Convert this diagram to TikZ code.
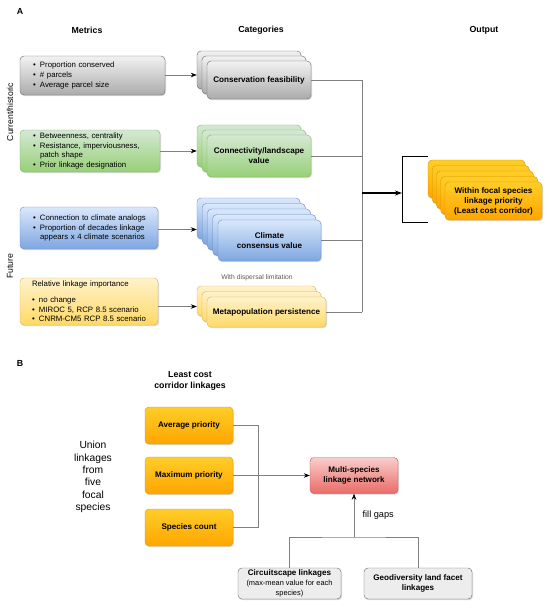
\documentclass[tikz,border=0pt]{standalone}
\usepackage{fontspec}
\setmainfont{Liberation Sans}
\usepackage{xcolor}
\usetikzlibrary{arrows.meta,shadows}

\definecolor{greyTop}{HTML}{F2F2F2}
\definecolor{greyBot}{HTML}{ABABAB}
\definecolor{greyLine}{HTML}{666666}
\definecolor{greenTop}{HTML}{D5E8D4}
\definecolor{greenBot}{HTML}{97D077}
\definecolor{greenLine}{HTML}{82B366}
\definecolor{blueTop}{HTML}{DAE8FC}
\definecolor{blueBot}{HTML}{7EA6E0}
\definecolor{blueLine}{HTML}{6C8EBF}
\definecolor{yellowTop}{HTML}{FFF2CC}
\definecolor{yellowBot}{HTML}{FFD966}
\definecolor{yellowLine}{HTML}{D6B656}
\definecolor{orangeTop}{HTML}{FFCD28}
\definecolor{orangeBot}{HTML}{FFA500}
\definecolor{orangeLine}{HTML}{D79B00}
\definecolor{redTop}{HTML}{F8CECC}
\definecolor{redBot}{HTML}{EA6B66}
\definecolor{redLine}{HTML}{B85450}

% one bullet line / one indented line in a metrics box
\newcommand{\bitem}[1]{\makebox[7pt][l]{\textbullet}\mbox{#1}}
\newcommand{\bcont}[1]{\hspace*{7pt}\mbox{#1}}

\begin{document}
\begin{tikzpicture}[
  x=1pt, y=-1pt,
  box/.style={rectangle, rounded corners=4pt, inner sep=0pt, align=center,
    font=\bfseries\fontsize{8.1}{10}\selectfont,
    drop shadow={shadow xshift=1pt, shadow yshift=-1.2pt, opacity=0.3}},
  metric/.style={box, align=left, inner xsep=13pt,
    font=\fontsize{7.8}{9.8}\selectfont},
  greybox/.style={draw=greyLine, top color=greyTop, bottom color=greyBot},
  greenbox/.style={draw=greenLine, top color=greenTop, bottom color=greenBot},
  bluebox/.style={draw=blueLine, top color=blueTop, bottom color=blueBot},
  yellowbox/.style={draw=yellowLine, top color=yellowTop, bottom color=yellowBot},
  orangebox/.style={draw=orangeLine, top color=orangeTop, bottom color=orangeBot},
  redbox/.style={draw=redLine, top color=redTop, bottom color=redBot},
  lightbox/.style={draw=greyLine, fill=black!7},
  head/.style={font=\bfseries\fontsize{8.8}{11}\selectfont, align=center},
  side/.style={font=\fontsize{8.6}{10}\selectfont, rotate=90},
  link/.style={draw=black!50, line width=0.6pt},
  arr/.style={link, -{Stealth[length=6pt, width=4.5pt, black]}}
]
  \useasboundingbox (0,0) rectangle (550,608);

  % Panel A
  \node[font=\bfseries\fontsize{8.8}{10}\selectfont] (lblA) at (20,11) {A};
  \node[head] (hmet) at (87,30) {Metrics};
  \node[head] (hcat) at (261,30) {Categories};
  \node[head] (hout) at (484,30) {Output};
  \node[side] (tcur) at (10,112) {Current/historic};
  \node[side] (tfut) at (10,266) {Future};

  % metrics
  \node[metric, greybox, minimum width=145, minimum height=39, text width=119]
    (mcf) at (92.5,75.5) {\bitem{Proportion conserved}\\\bitem{\# parcels}\\\bitem{Average parcel size}};
  \node[metric, greenbox, minimum width=140, minimum height=42, text width=114]
    (mcl) at (90,151) {\bitem{Betweenness, centrality}\\\bitem{Resistance, imperviousness,}\\\bcont{patch shape}\\\bitem{Prior linkage designation}};
  \node[metric, bluebox, minimum width=138, minimum height=42, text width=112]
    (mcc) at (89,228) {\bitem{Connection to climate analogs}\\\bitem{Proportion of decades linkage}\\\bcont{appears x 4 climate scenarios}};
  \node[metric, yellowbox, minimum width=138, minimum height=47, text width=114, inner xsep=12pt]
    (mmp) at (89,301.5) {\mbox{Relative linkage importance}\\[6pt]\bitem{no change}\\\bitem{MIROC 5, RCP 8.5 scenario}\\\bitem{CNRM-CM5 RCP 8.5 scenario}};

  % categories (stacked)
  \foreach \i in {2,1}
    \node[box, greybox, minimum width=104, minimum height=38] (cf\i) at ({259-5*\i},{80-5*\i}) {};
  \node[box, greybox, minimum width=104, minimum height=38] (cf) at (259,80) {Conservation feasibility};

  \foreach \i in {2,1}
    \node[box, greenbox, minimum width=104, minimum height=42] (cl\i) at ({259-5*\i},{156-5*\i}) {};
  \node[box, greenbox, minimum width=104, minimum height=42] (cl) at (259,156) {Connectivity/landscape\\value};

  \foreach \i in {4,3,2,1}
    \node[box, bluebox, minimum width=103, minimum height=41] (cc\i) at ({269.5-5.25*\i},{240.5-5.5*\i}) {};
  \node[box, bluebox, minimum width=103, minimum height=41] (cc) at (269.5,240.5) {Climate\\consensus value};

  \node[font=\fontsize{6.8}{8}\selectfont, text=black!65] (tdisp) at (257,278) {With dispersal limitation};
  \foreach \i in {2,1}
    \node[box, yellowbox, minimum width=119, minimum height=30] (mp\i) at ({266.5-5*\i},{312-5.5*\i}) {};
  \node[box, yellowbox, minimum width=119, minimum height=30] (mp) at (266.5,312) {Metapopulation persistence};

  % output (stacked)
  \foreach \i in {4,3,2,1}
    \node[box, orangebox, minimum width=97, minimum height=38] (out\i) at ({493.5-4.25*\i},{201-5.5*\i}) {};
  \node[box, orangebox, minimum width=97, minimum height=38] (out) at (493.5,201) {Within focal species\\linkage priority\\(Least cost corridor)};

  % metric -> category
  \draw[arr] (mcf.east |- cf1.west) -- (cf2.west |- cf1.west);
  \draw[arr] (mcl.east |- cl1.west) -- (cl2.west |- cl1.west);
  \draw[arr] (mcc.east |- cc2.west) -- (cc4.west |- cc2.west);
  \draw[arr] (mmp.east |- mp1.west) -- (mp2.west |- mp1.west);

  % category -> output
  \coordinate (hub) at (362,193);
  \coordinate (brk) at (402,193);
  \coordinate (brkT) at (428,156);
  \coordinate (brkB) at (428,222);
  \draw[link] (cf.east) -- (cf.east -| hub);
  \draw[link] (cl.east) -- (cl.east -| hub);
  \draw[link] (cc.east) -- (cc.east -| hub);
  \draw[link] (mp.east) -- (mp.east -| hub);
  \draw[link] (cf.east -| hub) -- (mp.east -| hub);
  \draw[line width=1.2pt, -{Stealth[length=7pt, width=5pt]}] (hub) -- (brk);
  \draw[line width=1pt] (brkT) -- (brkT -| brk) -- (brkB -| brk) -- (brkB);

  % Panel B
  \node[font=\bfseries\fontsize{8.8}{10}\selectfont] (lblB) at (20,363) {B};
  \node[head] (hlcc) at (190,381) {Least cost\\corridor linkages};
  \node[font=\fontsize{10.3}{12.4}\selectfont, align=center] (tunion) at (93,477)
    {Union\\linkages\\from\\five\\focal\\species};

  \node[box, orangebox, minimum width=88, minimum height=37] (avg) at (189,425.5) {Average priority};
  \node[box, orangebox, minimum width=88, minimum height=37] (max) at (189,475.5) {Maximum priority};
  \node[box, orangebox, minimum width=88, minimum height=37] (cnt) at (189,527.5) {Species count};
  \node[box, redbox, minimum width=88, minimum height=36] (msl) at (354,475.5) {Multi-species\\linkage network};
  \node[box, lightbox, minimum width=103, minimum height=31] (cs) at (289.5,583.5)
    {Circuitscape linkages\\\mdseries\fontsize{7.4}{9}\selectfont(max-mean value for each\\\mdseries\fontsize{7.4}{9}\selectfont species)};
  \node[box, lightbox, minimum width=108, minimum height=31] (geo) at (418,583.5) {Geodiversity land facet\\linkages};

  \coordinate (bus) at (258,475.5);
  \draw[link] (avg.east) -- (avg.east -| bus) -- (cnt.east -| bus) -- (cnt.east);
  \draw[arr] (max.east) -- (msl.west);

  \coordinate (gap) at (354,537);
  \draw[link] (cs.north) |- (gap) -| (geo.north);
  \draw[arr] (gap) -- node[right=5pt, font=\fontsize{9.2}{10}\selectfont] {fill gaps} (msl.south);
\end{tikzpicture}
\end{document}
